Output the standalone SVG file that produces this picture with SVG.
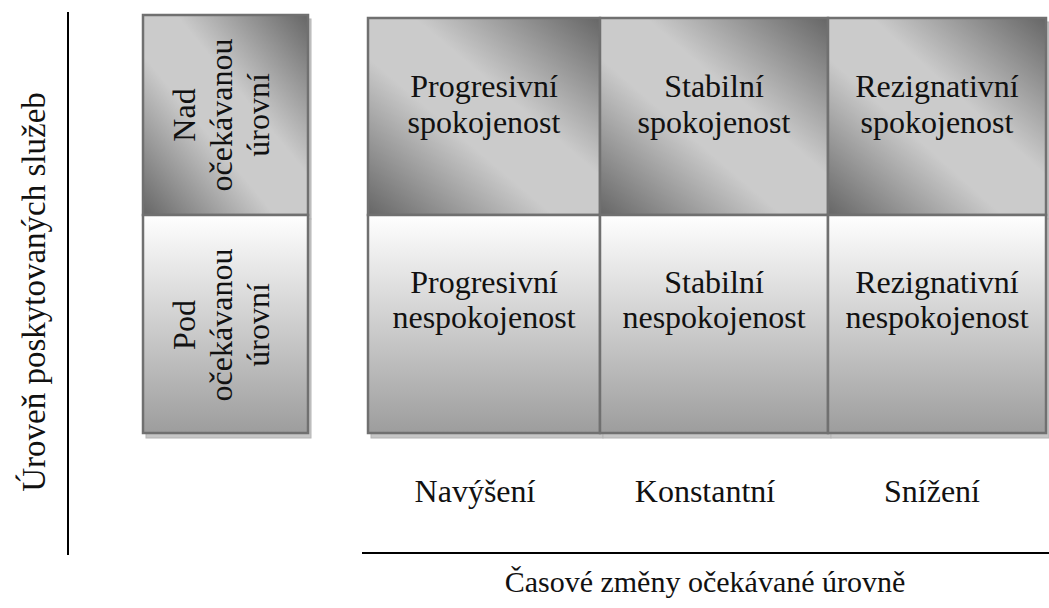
<svg xmlns="http://www.w3.org/2000/svg" width="1049" height="608" viewBox="0 0 1049 608">
  <style>
    .t { font-family: "Liberation Serif", "Times New Roman", serif; font-size: 32px; fill: #111; text-anchor: middle; }
    .box { stroke: #707070; stroke-width: 2.5; }
    .shadow { fill: #c6c6c6; stroke: #b4b4b4; stroke-width: 1; }
    .axis { stroke: #000; stroke-width: 2; fill: none; }
  </style>
  <defs>
    <!-- diagonal metallic fill: dark corners top-right and bottom-left -->
    <linearGradient id="gTop" x1="0" y1="1" x2="1" y2="0">
      <stop offset="0" stop-color="#666"/>
      <stop offset="0.4" stop-color="#cbcbcb"/>
      <stop offset="0.6" stop-color="#cbcbcb"/>
      <stop offset="1" stop-color="#666"/>
    </linearGradient>
    <!-- vertical fade from white to grey -->
    <linearGradient id="gBottom" x1="0" y1="0" x2="0" y2="1">
      <stop offset="0" stop-color="#ffffff"/>
      <stop offset="1" stop-color="#9d9d9d"/>
    </linearGradient>
  </defs>

  <!-- axes -->
  <g id="connectors">
    <line class="axis" x1="68" y1="12" x2="68" y2="555"/>
    <line class="axis" x1="362" y1="553" x2="1049" y2="553"/>
  </g>

  <!-- drop shadows -->
  <g id="shadows">
    <rect class="shadow" x="146" y="19" width="165" height="200"/>
    <rect class="shadow" x="146" y="219" width="165" height="219"/>
    <rect class="shadow" x="371" y="22" width="232" height="197"/>
    <rect class="shadow" x="603" y="22" width="228" height="197"/>
    <rect class="shadow" x="831" y="22" width="218" height="197"/>
    <rect class="shadow" x="371" y="219" width="232" height="219"/>
    <rect class="shadow" x="603" y="219" width="228" height="219"/>
    <rect class="shadow" x="831" y="219" width="218" height="219"/>
  </g>

  <!-- row headers -->
  <g id="nad">
    <rect class="box" x="143" y="15" width="165" height="200" fill="url(#gTop)"/>
    <text class="t" transform="translate(195,115) rotate(-90)">Nad</text>
    <text class="t" transform="translate(232,115) rotate(-90)">očekávanou</text>
    <text class="t" transform="translate(269,115) rotate(-90)">úrovní</text>
  </g>
  <g id="pod">
    <rect class="box" x="143" y="215" width="165" height="218" fill="url(#gBottom)"/>
    <text class="t" transform="translate(195,325) rotate(-90)">Pod</text>
    <text class="t" transform="translate(232,325) rotate(-90)">očekávanou</text>
    <text class="t" transform="translate(269,325) rotate(-90)">úrovní</text>
  </g>

  <!-- upper row -->
  <g id="progresivni-spokojenost">
    <rect class="box" x="368" y="18" width="232" height="197" fill="url(#gTop)"/>
    <text class="t" x="484" y="97">Progresivní</text>
    <text class="t" x="484" y="133">spokojenost</text>
  </g>
  <g id="stabilni-spokojenost">
    <rect class="box" x="600" y="18" width="228" height="197" fill="url(#gTop)"/>
    <text class="t" x="714" y="97">Stabilní</text>
    <text class="t" x="714" y="133">spokojenost</text>
  </g>
  <g id="rezignativni-spokojenost">
    <rect class="box" x="828" y="18" width="218" height="197" fill="url(#gTop)"/>
    <text class="t" x="937" y="97">Rezignativní</text>
    <text class="t" x="937" y="133">spokojenost</text>
  </g>

  <!-- lower row -->
  <g id="progresivni-nespokojenost">
    <rect class="box" x="368" y="215" width="232" height="218" fill="url(#gBottom)"/>
    <text class="t" x="484" y="293">Progresivní</text>
    <text class="t" x="484" y="328">nespokojenost</text>
  </g>
  <g id="stabilni-nespokojenost">
    <rect class="box" x="600" y="215" width="228" height="218" fill="url(#gBottom)"/>
    <text class="t" x="714" y="293">Stabilní</text>
    <text class="t" x="714" y="328">nespokojenost</text>
  </g>
  <g id="rezignativni-nespokojenost">
    <rect class="box" x="828" y="215" width="218" height="218" fill="url(#gBottom)"/>
    <text class="t" x="937" y="293">Rezignativní</text>
    <text class="t" x="937" y="328">nespokojenost</text>
  </g>

  <!-- column captions -->
  <g id="captions">
    <text class="t" x="475" y="502">Navýšení</text>
    <text class="t" x="705" y="502">Konstantní</text>
    <text class="t" x="932" y="502">Snížení</text>
  </g>

  <!-- axis titles -->
  <g id="axis-titles">
    <text class="t" x="705" y="592" style="font-size:30px">Časové změny očekávané úrovně</text>
    <text class="t" transform="translate(45,292) rotate(-90)" style="font-size:33px">Úroveň poskytovaných služeb</text>
  </g>
</svg>
